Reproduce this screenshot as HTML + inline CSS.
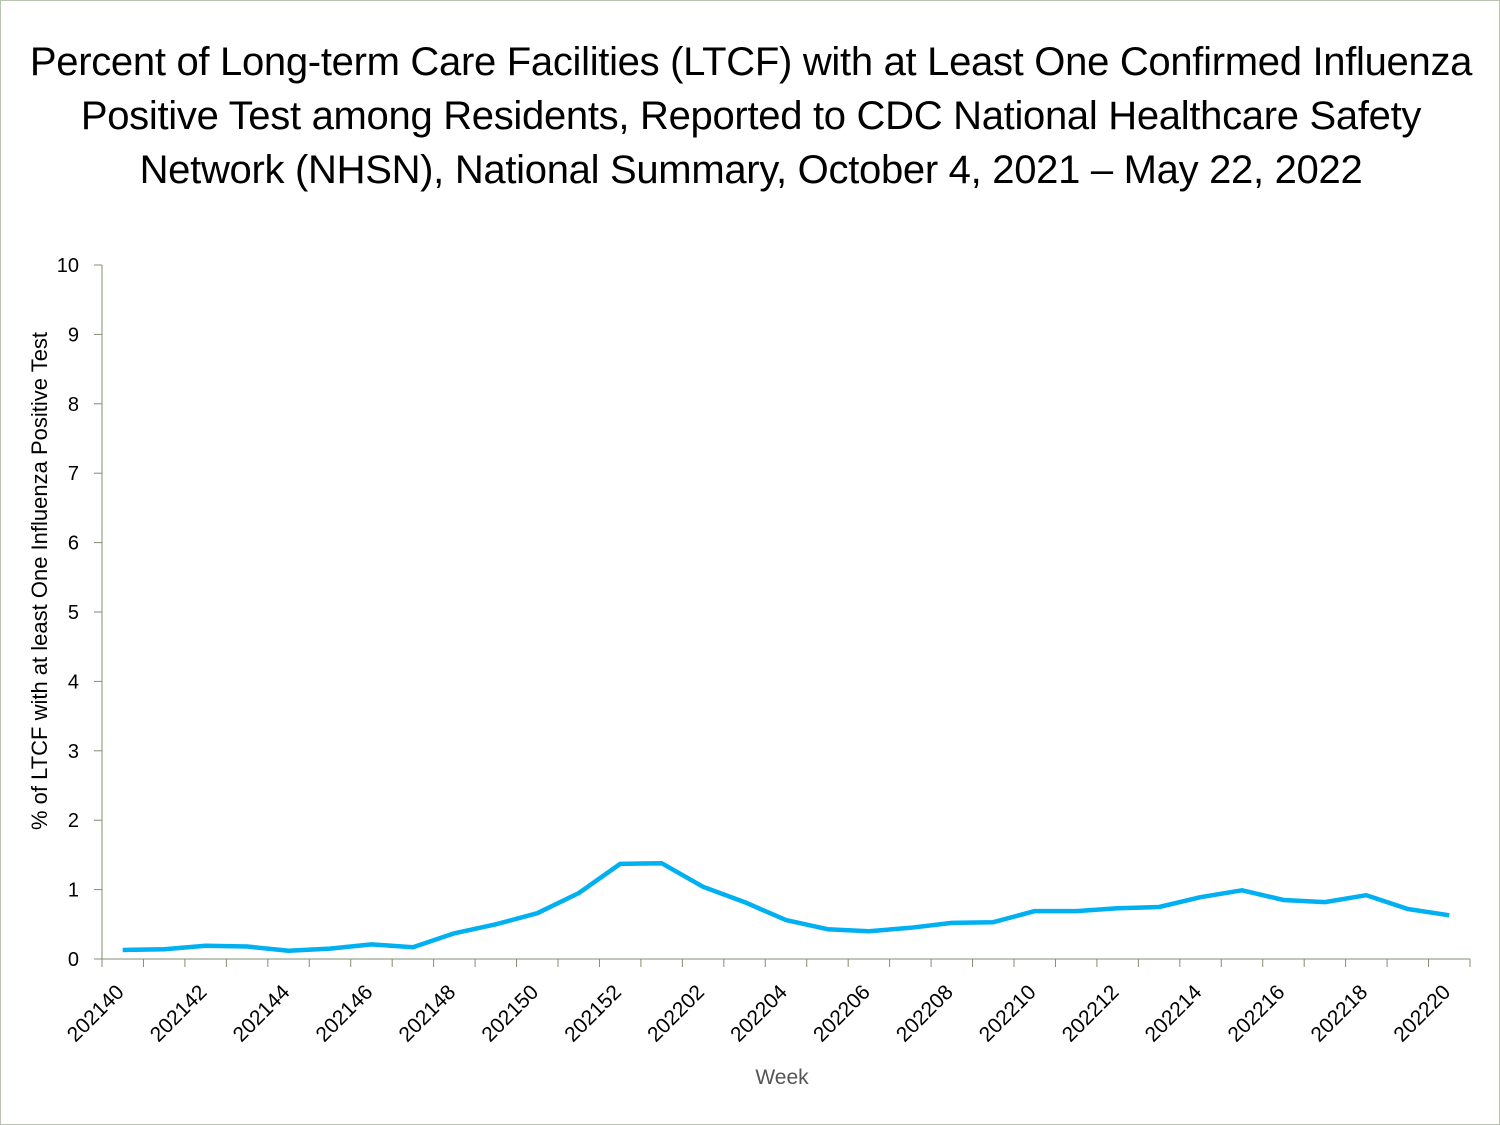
<!DOCTYPE html>
<html><head><meta charset="utf-8"><style>
html,body{margin:0;padding:0;background:#fff}
#wrap{position:relative;width:1500px;height:1125px;overflow:hidden;box-sizing:border-box;border:1px solid #b8c4b0}
#title{position:absolute;left:-20px;top:34px;width:1540px;text-align:center;font-family:"Liberation Sans",sans-serif;font-size:40px;line-height:54px;color:#000;letter-spacing:-0.3px}
svg{position:absolute;left:0;top:0}
</style></head><body>
<div id="wrap">
<div id="title">Percent of Long-term Care Facilities (LTCF) with at Least One Confirmed Influenza<br>Positive Test among Residents, Reported to CDC National Healthcare Safety<br>Network (NHSN), National Summary, October 4, 2021 – May 22, 2022</div>
<svg id="chart" width="1500" height="1125"></svg>
</div>
<script>
const weeks=["202140","202141","202142","202143","202144","202145","202146","202147","202148","202149","202150","202151","202152","202201","202202","202203","202204","202205","202206","202207","202208","202209","202210","202211","202212","202213","202214","202215","202216","202217","202218","202219","202220"];
const values=[0.13,0.14,0.19,0.18,0.12,0.15,0.21,0.17,0.37,0.5,0.66,0.95,1.37,1.38,1.04,0.82,0.56,0.43,0.40,0.45,0.52,0.53,0.69,0.69,0.73,0.75,0.89,0.99,0.85,0.82,0.92,0.72,0.63];
const yTicks=[0,1,2,3,4,5,6,7,8,9,10];
const NS="http://www.w3.org/2000/svg";
const svg=document.getElementById('chart');
const x0=101,x1=1469,y0=958,y1=264;
const step=(x1-x0)/weeks.length;
const xs=i=>x0+step*(i+0.5);
const ys=v=>y0-(v/10)*(y0-y1);
function mk(t,a){const e=document.createElementNS(NS,t);for(const k in a)e.setAttribute(k,a[k]);svg.appendChild(e);return e;}
let e=mk('line',{x1:x0,y1:y1,x2:x0,y2:y0,stroke:'#7f8f70','stroke-width':1});


e=mk('line',{x1:x0,y1:y0,x2:x1,y2:y0,stroke:'#7f8f70','stroke-width':1});


yTicks.forEach(t=>{
 const y=ys(t);
 let l=mk('line',{x1:x0-8,y1:y,x2:x0,y2:y,stroke:'#7f8f70'});
 
 
 let tx=mk('text',{x:x0-23,y:y+7,'text-anchor':'end','font-family':'Liberation Sans, sans-serif','font-size':20,fill:'#000'});
 tx.textContent=t;
 
 
});
for(let i=0;i<=weeks.length;i++){
 const x=x0+step*i;
 let l=mk('line',{x1:x,y1:y0,x2:x,y2:y0+8,stroke:'#7f8f70'});
 
 
}
weeks.forEach((w,i)=>{
 if(i%2)return;
 const x=xs(i)-8,y=y0+24;
 let tx=mk('text',{x:x,y:y,'text-anchor':'end','font-family':'Liberation Sans, sans-serif','font-size':21,fill:'#000',transform:`rotate(-45 ${x} ${y})`,dy:'0.7em'});
 tx.textContent=w;
 
 
});
const pts=values.map((v,i)=>xs(i).toFixed(1)+','+ys(v).toFixed(1)).join(' ');
let pl=mk('polyline',{points:pts,fill:'none',stroke:'#00b0f0','stroke-width':4.5,'stroke-linejoin':'round'});


let xt=mk('text',{x:781,y:1083,'text-anchor':'middle','font-family':'Liberation Sans, sans-serif','font-size':21,fill:'#555'});
xt.textContent='Week';


let yt=mk('text',{x:46,y:580,'text-anchor':'middle','font-family':'Liberation Sans, sans-serif','font-size':22,fill:'#000',transform:'rotate(-90 46 580)'});
yt.textContent='% of LTCF with at least One Influenza Positive Test';


</script>
</body></html>
